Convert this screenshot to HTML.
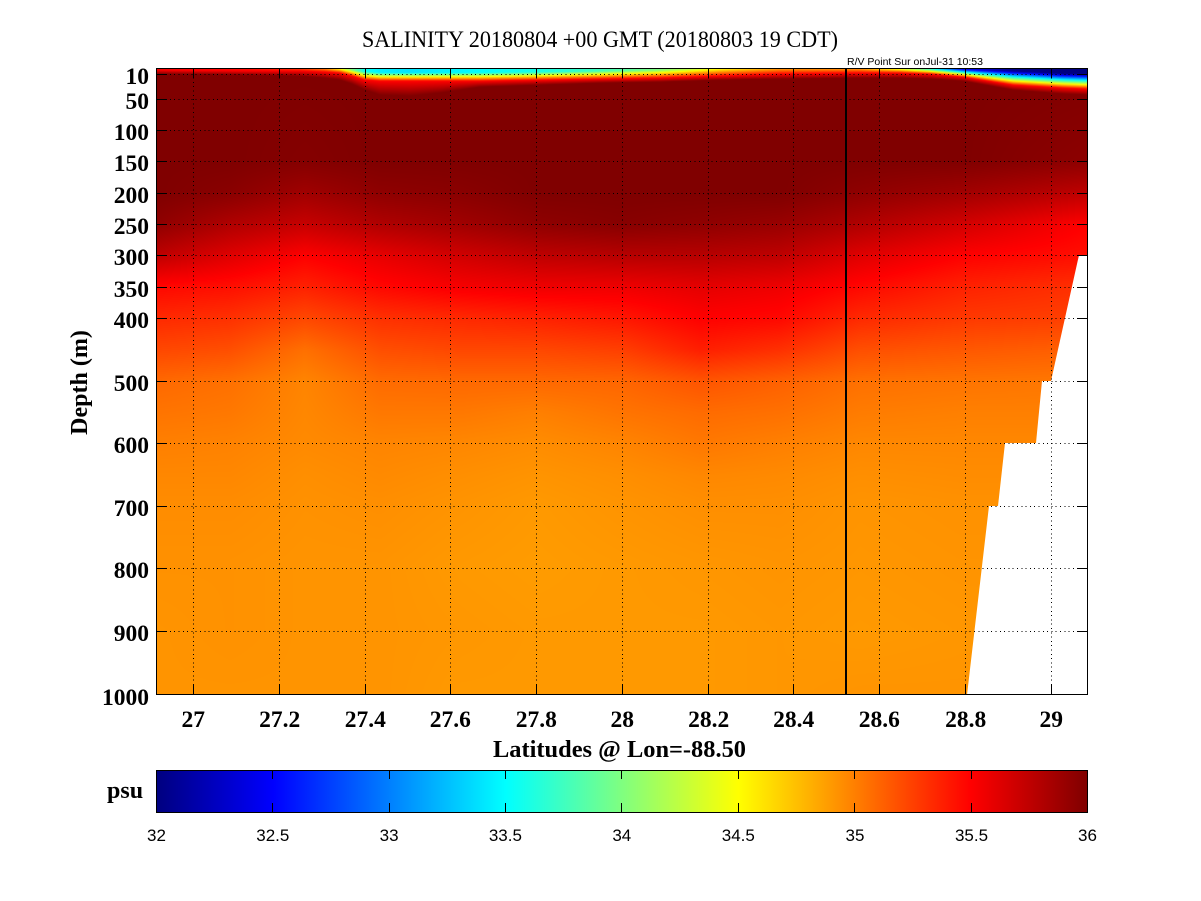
<!DOCTYPE html>
<html>
<head>
<meta charset="utf-8">
<style>
html,body{margin:0;padding:0;background:#fff;}
#wrap{position:relative;width:1201px;height:901px;overflow:hidden;background:#fff;}
#c{position:absolute;left:157px;top:68px;width:931px;height:626px;
background:linear-gradient(to bottom,#800000 0%,#800000 16%,#880000 20%,#980000 25%,#d00000 30%,#f80000 35%,#ff2800 40%,#ff4800 45%,#ff6800 50%,#ff7800 55%,#ff8400 60%,#ff9000 70%,#ff9800 100%);}
svg{position:absolute;left:0;top:0;}
.tk{font-family:"Liberation Serif",serif;font-weight:bold;font-size:23.5px;fill:#000;}
.cb{font-family:"Liberation Sans",sans-serif;font-size:17px;fill:#000;}
</style>
</head>
<body>
<div id="wrap">
<canvas id="c" width="931" height="626"></canvas>
<svg width="1201" height="901" viewBox="0 0 1201 901" xmlns="http://www.w3.org/2000/svg">
<defs>
<linearGradient id="jet" x1="0" y1="0" x2="1" y2="0">
<stop offset="0" stop-color="#000080"/>
<stop offset="0.125" stop-color="#0000ff"/>
<stop offset="0.375" stop-color="#00ffff"/>
<stop offset="0.625" stop-color="#ffff00"/>
<stop offset="0.875" stop-color="#ff0000"/>
<stop offset="1" stop-color="#800000"/>
</linearGradient>
</defs>

<polygon points="1088,255 1079,255 1051,381 1042,381 1036,443 1005,443 998,506 989,506 967,695 1088,695" fill="#ffffff"/>

<g stroke="#000" stroke-width="1" stroke-dasharray="1,3.3" shape-rendering="crispEdges" fill="none">
<line x1="193.5" y1="69" x2="193.5" y2="694"/>
<line x1="279.5" y1="69" x2="279.5" y2="694"/>
<line x1="365.5" y1="69" x2="365.5" y2="694"/>
<line x1="450.5" y1="69" x2="450.5" y2="694"/>
<line x1="536.5" y1="69" x2="536.5" y2="694"/>
<line x1="622.5" y1="69" x2="622.5" y2="694"/>
<line x1="708.5" y1="69" x2="708.5" y2="694"/>
<line x1="793.5" y1="69" x2="793.5" y2="694"/>
<line x1="879.5" y1="69" x2="879.5" y2="694"/>
<line x1="965.5" y1="69" x2="965.5" y2="694"/>
<line x1="1051.5" y1="69" x2="1051.5" y2="694"/>
<line x1="157" y1="74.5" x2="1087" y2="74.5"/>
<line x1="157" y1="99.5" x2="1087" y2="99.5"/>
<line x1="157" y1="130.5" x2="1087" y2="130.5"/>
<line x1="157" y1="161.5" x2="1087" y2="161.5"/>
<line x1="157" y1="193.5" x2="1087" y2="193.5"/>
<line x1="157" y1="224.5" x2="1087" y2="224.5"/>
<line x1="157" y1="255.5" x2="1087" y2="255.5"/>
<line x1="157" y1="287.5" x2="1087" y2="287.5"/>
<line x1="157" y1="318.5" x2="1087" y2="318.5"/>
<line x1="157" y1="381.5" x2="1087" y2="381.5"/>
<line x1="157" y1="443.5" x2="1087" y2="443.5"/>
<line x1="157" y1="506.5" x2="1087" y2="506.5"/>
<line x1="157" y1="568.5" x2="1087" y2="568.5"/>
<line x1="157" y1="631.5" x2="1087" y2="631.5"/>
</g>

<rect x="845" y="68" width="2" height="627" fill="#000"/>

<g stroke="#000" stroke-width="1" shape-rendering="crispEdges">
<path d="M193.5 694V684M279.5 694V684M365.5 694V684M450.5 694V684M536.5 694V684M622.5 694V684M708.5 694V684M793.5 694V684M879.5 694V684M965.5 694V684M1051.5 694V684"/>
<path d="M193.5 68V78M279.5 68V78M365.5 68V78M450.5 68V78M536.5 68V78M622.5 68V78M708.5 68V78M793.5 68V78M879.5 68V78M965.5 68V78M1051.5 68V78"/>
<path d="M157 74.5H167M157 99.5H167M157 130.5H167M157 161.5H167M157 193.5H167M157 224.5H167M157 255.5H167M157 287.5H167M157 318.5H167M157 381.5H167M157 443.5H167M157 506.5H167M157 568.5H167M157 631.5H167"/>
<path d="M1087 74.5H1077M1087 99.5H1077M1087 130.5H1077M1087 161.5H1077M1087 193.5H1077M1087 224.5H1077M1087 255.5H1077M1087 287.5H1077M1087 318.5H1077M1087 381.5H1077M1087 443.5H1077M1087 506.5H1077M1087 568.5H1077M1087 631.5H1077"/>
</g>

<rect x="156.5" y="68.5" width="931" height="626" fill="none" stroke="#000" stroke-width="1" shape-rendering="crispEdges"/>

<text x="362" y="47" font-family="Liberation Serif, serif" font-size="23px" textLength="476" lengthAdjust="spacingAndGlyphs" fill="#000">SALINITY 20180804 +00 GMT (20180803 19 CDT)</text>
<text x="847" y="65" font-family="Liberation Sans, sans-serif" font-size="10px" textLength="136" lengthAdjust="spacingAndGlyphs" fill="#000">R/V Point Sur onJul-31 10:53</text>

<g class="tk" text-anchor="end">
<text x="149" y="84">10</text>
<text x="149" y="109">50</text>
<text x="149" y="140">100</text>
<text x="149" y="171">150</text>
<text x="149" y="203">200</text>
<text x="149" y="234">250</text>
<text x="149" y="265">300</text>
<text x="149" y="297">350</text>
<text x="149" y="328">400</text>
<text x="149" y="391">500</text>
<text x="149" y="453">600</text>
<text x="149" y="516">700</text>
<text x="149" y="578">800</text>
<text x="149" y="641">900</text>
<text x="149" y="705">1000</text>
</g>

<g class="tk" text-anchor="middle">
<text x="193.3" y="727">27</text>
<text x="279.7" y="727">27.2</text>
<text x="365.3" y="727">27.4</text>
<text x="450.3" y="727">27.6</text>
<text x="536.3" y="727">27.8</text>
<text x="622.3" y="727">28</text>
<text x="708.7" y="727">28.2</text>
<text x="793.7" y="727">28.4</text>
<text x="879.3" y="727">28.6</text>
<text x="965.7" y="727">28.8</text>
<text x="1051.3" y="727">29</text>
</g>

<text x="493" y="757" font-family="Liberation Serif, serif" font-weight="bold" font-size="24px" textLength="253" lengthAdjust="spacingAndGlyphs" fill="#000">Latitudes @ Lon=-88.50</text>
<text transform="translate(87,382.5) rotate(-90)" text-anchor="middle" font-family="Liberation Serif, serif" font-weight="bold" font-size="24px" fill="#000">Depth (m)</text>

<rect x="157" y="770" width="930" height="42" fill="url(#jet)"/>
<rect x="156.5" y="770.5" width="931" height="42" fill="none" stroke="#000" stroke-width="1" shape-rendering="crispEdges"/>
<g stroke="#000" stroke-width="1" shape-rendering="crispEdges">
<path d="M272.5 770V779M389.5 770V779M505.5 770V779M621.5 770V779M738.5 770V779M854.5 770V779M971.5 770V779"/>
<path d="M272.5 812V803M389.5 812V803M505.5 812V803M621.5 812V803M738.5 812V803M854.5 812V803M971.5 812V803"/>
</g>
<text x="107" y="798" font-family="Liberation Serif, serif" font-weight="bold" font-size="24px" fill="#000">psu</text>
<g class="cb" text-anchor="middle">
<text x="156.5" y="841">32</text>
<text x="272.8" y="841">32.5</text>
<text x="389.1" y="841">33</text>
<text x="505.4" y="841">33.5</text>
<text x="621.8" y="841">34</text>
<text x="738.3" y="841">34.5</text>
<text x="855" y="841">35</text>
<text x="971.5" y="841">35.5</text>
<text x="1087.5" y="841">36</text>
</g>
</svg>
</div>
<script>
(function(){
var cv=document.getElementById('c');
var ctx=cv.getContext('2d');
var W=cv.width,H=cv.height;
var img=ctx.createImageData(W,H);var D=img.data;
var X=[157,230,305,380,460,540,620,700,780,860,960,1087];
var Y=[68,160,193,224,256,287,318,350,381,412,443,475,506,569,631,694];
var V=[
[36,36,36,36,36,36,36,36,36,36,36,36],
[36,36,35.98,36,36,36,36,36,36,36,36,35.95],
[36.0,35.96,35.87,35.94,35.96,36,36,36,36,35.94,35.87,35.75],
[35.94,35.81,35.72,35.81,35.87,35.94,35.97,35.94,35.90,35.81,35.68,35.5],
[35.75,35.62,35.5,35.59,35.68,35.75,35.78,35.78,35.75,35.62,35.5,35.44],
[35.47,35.44,35.37,35.47,35.53,35.56,35.56,35.6,35.56,35.47,35.37,35.31],
[35.34,35.31,35.22,35.31,35.34,35.37,35.41,35.5,35.47,35.34,35.28,35.25],
[35.22,35.19,35.06,35.19,35.22,35.22,35.25,35.38,35.31,35.19,35.155,35.12],
[35.09,35.06,34.98,35.08,35.09,35.09,35.1,35.17,35.12,35.06,35.045,35.03],
[35.045,35.03,34.97,35.03,35.03,35.0,35.045,35.08,35.06,35.015,35.0,35.0],
[35.0,34.99,34.96,34.98,34.97,34.95,34.98,35.03,35.0,34.97,34.97,34.97],
[34.97,34.97,34.94,34.96,34.94,34.92,34.94,34.97,34.96,34.94,34.95,34.95],
[34.95,34.95,34.93,34.94,34.92,34.9,34.92,34.94,34.94,34.92,34.93,34.93],
[34.93,34.93,34.92,34.92,34.9,34.89,34.9,34.91,34.92,34.91,34.92,34.92],
[34.92,34.93,34.92,34.92,34.91,34.9,34.9,34.9,34.91,34.9,34.91,34.92],
[34.92,34.92,34.92,34.92,34.9,34.9,34.9,34.9,34.91,34.92,34.92,34.92]
];
var XS=[157,250,300,325,340,352,365,380,410,440,480,540,600,660,720,780,860,900,930,963,1013,1063,1087];
var S0=[35.55,35.45,35.3,35.0,34.5,34.0,33.55,33.45,33.4,33.45,33.5,33.6,33.75,34.0,34.5,34.9,34.9,34.4,33.6,32.5,32.05,32.0,32.0];
var P =[1,1,1,1,1,2,3.5,4.5,4.5,4.5,4.5,4,3,2,1,1,1,1,1,1.5,3,5.5,6];
var H1=[2,3,3,4,5,8,12,13,13,13,13,12,11,10,8,6,5,5,6,9,17,20,21];
var H2=[6,7,8,10,12,16,22,27,28,25,19,17,15,14,12,11,10,10,11,13,22,26,27];
function loc(a,v){var n=a.length;if(v<=a[0])return[0,0];if(v>=a[n-1])return[n-2,1];for(var i=0;i<n-1;i++){if(v<a[i+1])return[i,(v-a[i])/(a[i+1]-a[i])];}return[n-2,1];}
function lin(a,l){return a[l[0]]+(a[l[0]+1]-a[l[0]])*l[1];}
function cl(v){return v<0?0:(v>1?1:v);}
var LY=[];for(var py=0;py<H;py++){LY.push(loc(Y,68+py+0.5));}
for(var px=0;px<W;px++){
 var x=157+px+0.5;var lx=loc(X,x);var ls=loc(XS,x);
 var s0=lin(S0,ls),p=lin(P,ls),h1=lin(H1,ls),h2=lin(H2,ls);
 var col=[];for(var j=0;j<Y.length;j++){col.push(V[j][lx[0]]+(V[j][lx[0]+1]-V[j][lx[0]])*lx[1]);}
 for(var py=0;py<H;py++){
  var y=68+py+0.5;var s=lin(col,LY[py]);var d=y-68;
  if(d<h2){var ss;if(d<p)ss=s0;else if(d<h1)ss=s0+(35.5-s0)*(d-p)/(h1-p);else ss=35.5+0.5*(d-h1)/(h2-h1);if(ss<s)s=ss;}
  var t=(s-32)/4;
  var r=cl(1.5-Math.abs(4*t-3)),g=cl(1.5-Math.abs(4*t-2)),b=cl(1.5-Math.abs(4*t-1));
  var k=(py*W+px)*4;D[k]=Math.round(r*255);D[k+1]=Math.round(g*255);D[k+2]=Math.round(b*255);D[k+3]=255;
 }
}
ctx.putImageData(img,0,0);
})();
</script>
</body>
</html>
